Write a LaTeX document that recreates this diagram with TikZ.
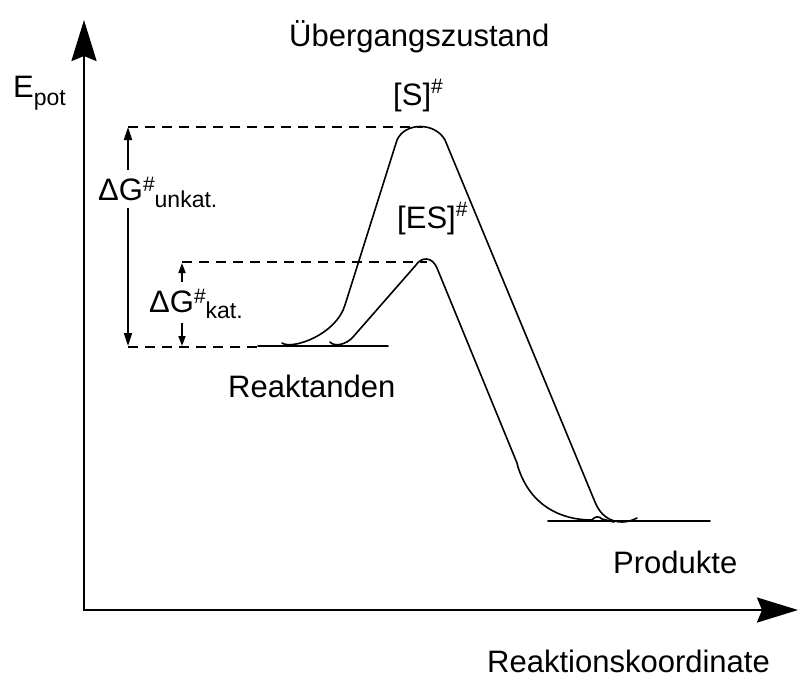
\documentclass[tikz,border=0pt]{standalone}
\usepackage{fontspec}
\setmainfont{Liberation Sans}
\usetikzlibrary{arrows.meta}
\newcommand{\bigtxt}{\fontsize{31}{36}\selectfont}
\newcommand{\suptxt}[2]{\raisebox{#1}{\fontsize{21}{22}\selectfont #2}}
\newcommand{\subtxt}[2]{\raisebox{#1}{\fontsize{23}{24}\selectfont #2}}
\begin{document}
\begin{tikzpicture}[x=1pt,y=-1pt,
  lbl/.style={font=\bigtxt, inner sep=0pt, anchor=base west},
  curve/.style={line width=1.6pt, line join=round, line cap=round},
  guide/.style={line width=2.2pt, dash pattern=on 10pt off 7pt},
  axis/.style={line width=2.6pt, line join=miter,
    {Stealth[length=41pt,width=25pt,inset=5pt]}-{Stealth[length=41pt,width=25pt,inset=5pt]}},
  dgbig/.style={line width=2pt, -{Triangle[length=13pt,width=8pt]}},
  dgsmall/.style={line width=1.8pt, -{Triangle[length=10pt,width=7pt]}},
  ]
\useasboundingbox (0,0) rectangle (800,686);

% axes
\coordinate (O) at (84,610);
\coordinate (ytip) at (84,20);
\coordinate (xtip) at (798,610);
\draw[axis] (ytip) -- (O) -- (xtip);

% guide lines
\coordinate (Stop) at (423,127);
\coordinate (ESTop) at (427,262);
\coordinate (gl1) at (128,127);
\coordinate (gl2) at (182,262);
\coordinate (gl3) at (128,347);
\coordinate (gl3e) at (258,347);
\coordinate (rb1) at (258,346);
\coordinate (rb2) at (388,346);
\coordinate (pb1) at (548,521);
\coordinate (pb2) at (710,521);
\draw[guide] (gl1) -- (Stop);
\draw[guide] (gl2) -- (ESTop);
\draw[guide] (gl3) -- (gl3e);
\draw[curve] (rb1) -- (rb2);
\draw[curve] (pb1) -- (pb2);

% Delta G arrows
\coordinate (u1) at (128,170);
\coordinate (u2) at (128,208);
\coordinate (u3) at (128,346);
\coordinate (k0) at (182,263);
\coordinate (k1) at (182,282);
\coordinate (k2) at (182,323);
\coordinate (k3) at (182,346);
\draw[dgbig] (u1) -- (gl1);
\draw[dgbig] (u2) -- (u3);
\draw[dgsmall] (k1) -- (k0);
\draw[dgsmall] (k2) -- (k3);

% uncatalysed curve
\draw[curve] (282,343) .. controls (292,350) and (336,335) .. (345,305)
  -- (397,140) .. controls (405,122) and (435,122) .. (445,140)
  -- (595,502) .. controls (600,515) and (610,522) .. (622,522)
  .. controls (628,522) and (633,520) .. (637,518);

% catalysed curve
\draw[curve] (330,342) .. controls (334,347) and (346,345) .. (353,337)
  -- (416,265) .. controls (421,257) and (432,256) .. (437,268)
  -- (517,463) -- (518,467)
  .. controls (530,505) and (560,520) .. (592,520)
  .. controls (595,516) and (599,516) .. (602,519) -- (614,522);

% labels
\node[lbl] (uz) at (289,46) {Übergangszustand};
\node[lbl] (S) at (393,105) {[S]\suptxt{12pt}{\#}};
\node[lbl] (ES) at (397,228) {[ES]\suptxt{12pt}{\#}};
\node[lbl] (epot) at (13,97) {E\subtxt{-8pt}{pot}};
\node[lbl] (dgu) at (98,200) {ΔG\suptxt{9pt}{\#}\subtxt{-7pt}{unkat.}};
\node[lbl] (dgk) at (149,312) {ΔG\suptxt{9pt}{\#}\subtxt{-6pt}{kat.}};
\node[lbl] (rea) at (228,397) {Reaktanden};
\node[lbl] (pro) at (613,573) {Produkte};
\node[lbl] (rk) at (487,672) {Reaktionskoordinate};
\end{tikzpicture}
\end{document}
